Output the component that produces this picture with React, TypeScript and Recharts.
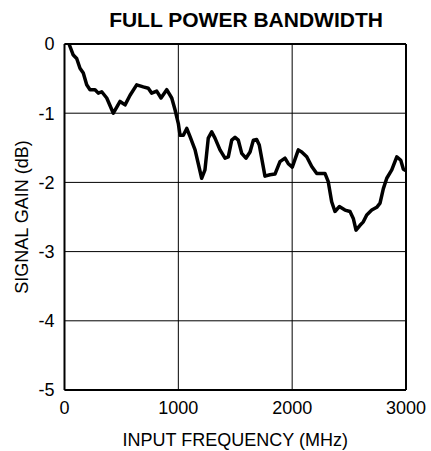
import React from "react";
import {
  LineChart,
  Line,
  XAxis,
  YAxis,
  CartesianGrid,
  ReferenceLine,
  Label,
} from "recharts";

// frequency (MHz) and gain (dB)
const freqMHz = [
  40, 77, 107, 136, 165, 195, 224, 268, 297, 327, 371, 429, 488, 532, 576,
  634, 692, 736, 766, 810, 848, 898, 942, 971, 1000, 1015, 1044, 1074, 1103,
  1147, 1205, 1234, 1263, 1293, 1322, 1366, 1410, 1439, 1469, 1498, 1527,
  1557, 1594, 1630, 1659, 1688, 1711, 1761, 1805, 1849, 1893, 1937, 1966,
  2001, 2054, 2084, 2128, 2172, 2216, 2288, 2317, 2347, 2376, 2414, 2464,
  2508, 2537, 2561, 2596, 2625, 2655, 2699, 2743, 2772, 2801, 2831, 2875,
  2919, 2954, 2977, 3000,
];
const gainDb = [
  0, -0.16, -0.21, -0.35, -0.42, -0.59, -0.66, -0.66, -0.71, -0.69, -0.78,
  -1.0, -0.83, -0.88, -0.74, -0.59, -0.62, -0.64, -0.71, -0.68, -0.78, -0.66,
  -0.78, -0.95, -1.15, -1.32, -1.32, -1.22, -1.34, -1.53, -1.94, -1.82, -1.36,
  -1.27, -1.36, -1.53, -1.65, -1.63, -1.39, -1.35, -1.39, -1.58, -1.65, -1.56,
  -1.39, -1.38, -1.46, -1.91, -1.89, -1.88, -1.7, -1.65, -1.73, -1.78, -1.53,
  -1.56, -1.63, -1.77, -1.87, -1.87, -1.99, -2.28, -2.42, -2.35, -2.4, -2.42,
  -2.52, -2.69, -2.62, -2.57, -2.47, -2.4, -2.36, -2.3, -2.09, -1.94, -1.82,
  -1.63, -1.68, -1.81, -1.83,
];
const xTicks = [0, 1000, 2000, 3000];
const yTicks = [-5, -4, -3, -2, -1, 0];

const data = freqMHz.map((f, i) => ({ freq: f, gain: gainDb[i] }));

const FONT = "'Liberation Sans', Arial, sans-serif";

const YAxisTitle = (props: any) => {
  const vb = props.viewBox;
  const cx = 22;
  const cy = vb.y + vb.height / 2;
  return (
    <text
      x={cx}
      y={cy}
      transform={`rotate(-90 ${cx} ${cy})`}
      textAnchor="middle"
      dominantBaseline="central"
      fontFamily={FONT}
      fontSize={18}
      fill="#000"
    >
      SIGNAL GAIN (dB)
    </text>
  );
};

export default function App() {
  return (
    <div
      style={{
        position: "absolute",
        left: 0,
        top: 0,
        width: 431,
        height: 451,
        background: "#fff",
        fontFamily: FONT,
      }}
    >
      <div
        style={{
          position: "absolute",
          left: 0,
          width: 492,
          top: 8,
          textAlign: "center",
          fontWeight: "bold",
          fontSize: 21,
          lineHeight: "24px",
          color: "#000",
        }}
      >
        FULL POWER BANDWIDTH
      </div>
      <LineChart
        width={431}
        height={451}
        data={data}
        margin={{ top: 44, right: 25, bottom: 0, left: 0 }}
      >
        <CartesianGrid stroke="#000" strokeWidth={1} />
        <XAxis
          dataKey="freq"
          type="number"
          domain={[0, 3000]}
          ticks={xTicks}
          height={61}
          tickLine={false}
          tickSize={0}
          tickMargin={11}
          axisLine={{ stroke: "#000", strokeWidth: 2 }}
          tick={{ fill: "#000", fontSize: 18, fontFamily: FONT }}
        >
          <Label
            value="INPUT FREQUENCY (MHz)"
            position="insideBottom"
            offset={5}
            style={{ fill: "#000", fontSize: 18, fontFamily: FONT }}
          />
        </XAxis>
        <YAxis
          type="number"
          domain={[-5, 0]}
          ticks={yTicks}
          width={64.5}
          tickLine={false}
          tickSize={0}
          tickMargin={10}
          axisLine={{ stroke: "#000", strokeWidth: 2 }}
          tick={{ fill: "#000", fontSize: 18, fontFamily: FONT }}
          label={<YAxisTitle />}
        />
        <ReferenceLine y={0} stroke="#000" strokeWidth={2} />
        <ReferenceLine x={3000} stroke="#000" strokeWidth={2} />
        <Line
          type="linear"
          dataKey="gain"
          stroke="#000"
          strokeWidth={3.5}
          strokeLinejoin="round"
          dot={false}
          isAnimationActive={false}
        />
      </LineChart>
    </div>
  );
}
